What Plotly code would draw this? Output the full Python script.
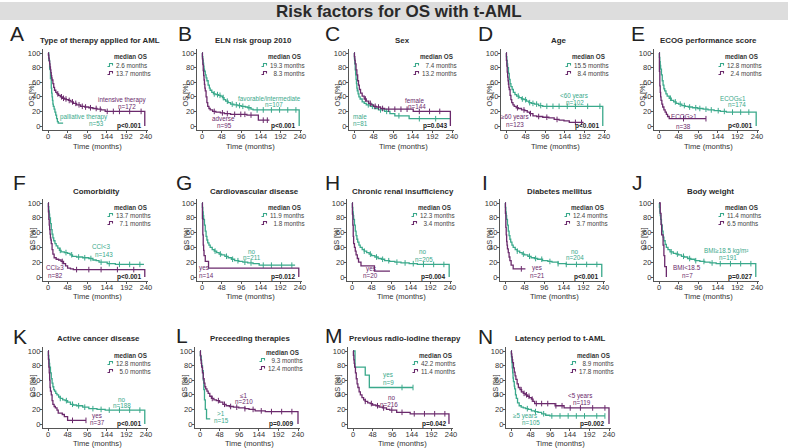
import plotly.graph_objects as go

W, H = 790, 448
TEAL = '#3aa98b'
PURPLE = '#6b2a6c'
FONT = 'Liberation Sans, Arial, sans-serif'

# ------------------------------------------------------------------ data
LETTERS = list('ABCDEFGHIJKLMN')
TITLES = ['Type of therapy applied for AML', 'ELN risk group 2010', 'Sex', 'Age',
          'ECOG performance score', 'Comorbidity', 'Cardiovascular disease',
          'Chronic renal insufficiency', 'Diabetes mellitus', 'Body weight',
          'Active cancer disease', 'Preceeding therapies',
          'Previous radio-iodine therapy', 'Latency period to t-AML']
PVALS = ['p<0.001', 'p<0.001', 'p=0.043', 'p<0.001', 'p<0.001', 'p<0.001', 'p=0.012',
         'p=0.004', 'p<0.001', 'p=0.027', 'p<0.001', 'p=0.009', 'p=0.042', 'p=0.002']
# median OS (months): [teal group, purple group]
MEDIANS = [['2.6', '13.7'], ['19.3', '\u20078.3'], ['\u20077.4', '13.2'], ['15.5', '\u20078.4'],
           ['12.8', '\u20072.4'], ['13.7', '\u20077.1'], ['11.9', '\u20071.8'], ['12.3', '\u20073.4'],
           ['12.4', '\u20073.7'], ['11.4', '6.5'], ['12.8', '\u20075.0'], ['\u20079.3', '12.4'],
           ['42.2', '11.4'], ['\u20078.9', '17.8']]
# group names and sizes: [teal, purple]
GROUPS = [['palliative therapy', 'intensive therapy'], ['favorable/intermediate', 'adverse'],
          ['male', 'female'], ['<60 years', '\u226560 years'], ['ECOG\u22641', 'ECOG>1'],
          ['CCI<3', 'CCI\u22653'], ['no', 'yes'], ['no', 'yes'], ['no', 'yes'],
          ['BMI\u226518.5 kg/m\u00b2', 'BMI<18.5'], ['no', 'yes'], ['>1', '\u22641'],
          ['yes', 'no'], ['\u22655 years', '<5 years']]
NS = [[53, 172], [107, 95], [81, 144], [102, 123], [174, 38], [143, 82], [211, 14],
      [205, 20], [204, 21], [191, 7], [188, 37], [15, 210], [9, 216], [105, 119]]

# survival curves (time in months, OS in %), 1 = teal group, 2 = purple group
A1_t = [0, 2, 4, 6, 8, 9, 10, 11, 12, 13, 15, 17, 19, 21, 23, 25, 37]
A1_s = [100, 90, 78, 65, 52, 45, 40, 35, 30, 27, 23, 19, 15, 10, 6, 4, 4]
A1_c = []
A2_t = [0, 1, 2, 3, 4, 5, 6, 7, 8, 9, 10, 12, 14, 16, 19, 22, 26, 30, 35, 40, 45, 50, 56, 62, 70, 80, 90, 100, 110, 120, 130, 140, 237]
A2_s = [100, 97, 93, 89, 85, 81, 77, 73, 69, 66, 63, 58, 53, 49, 46, 44, 42, 40, 38, 37, 36, 35, 33, 31, 29, 27, 26, 25, 24, 23, 22, 20, 0]
A2_c = [24, 33, 38, 44, 52, 60, 68, 76, 84, 92, 104, 118, 128, 145, 160, 175, 200, 228]

B1_t = [0, 1, 2, 3, 4, 5, 6, 8, 10, 12, 15, 18, 20, 24, 28, 34, 40, 46, 50, 54, 58, 64, 70, 78, 88, 96, 106, 112, 120, 125, 238]
B1_s = [100, 95, 90, 86, 82, 78, 75, 70, 66, 62, 56, 52, 49, 46, 44, 43, 42, 41, 39, 36, 34, 32, 30, 29, 28, 27, 26, 25, 23, 22, 0]
B1_c = [30, 38, 44, 52, 62, 74, 84, 92, 100, 115, 135, 150, 170, 190, 210, 230]
B2_t = [0, 1, 2, 3, 4, 5, 6, 7, 8, 10, 12, 14, 17, 20, 26, 34, 45, 55, 70, 110, 138, 165]
B2_s = [100, 92, 84, 76, 69, 63, 57, 52, 48, 40, 32, 27, 24, 22, 20, 19, 18, 17, 16, 15, 8, 8]
B2_c = [30, 50, 62, 80, 95, 105, 120, 150, 160]

C1_t = [0, 1, 2, 3, 4, 5, 6, 7, 8, 10, 12, 15, 20, 25, 30, 40, 50, 60, 75, 88, 100, 135, 235]
C1_s = [100, 92, 85, 77, 70, 64, 58, 52, 48, 44, 40, 37, 33, 31, 29, 27, 24, 22, 20, 17, 14, 10, 10]
C1_c = [35, 45, 65, 80, 110, 160, 200]
C2_t = [0, 1, 2, 3, 5, 7, 9, 11, 13, 16, 20, 25, 30, 36, 42, 48, 55, 65, 75, 145, 236]
C2_s = [100, 95, 90, 85, 77, 70, 62, 56, 50, 45, 41, 37, 34, 31, 29, 27, 26, 24, 23, 20, 0]
C2_c = [28, 40, 52, 60, 70, 85, 100, 115, 130, 160, 185, 210]

D1_t = [0, 1, 2, 3, 4, 6, 8, 10, 12, 15, 18, 22, 26, 32, 38, 44, 50, 56, 62, 70, 80, 90, 237]
D1_s = [100, 95, 90, 85, 80, 72, 64, 58, 54, 50, 46, 43, 41, 39, 37, 36, 34, 32, 31, 30, 28, 27, 0]
D1_c = [30, 40, 48, 58, 66, 75, 85, 100, 115, 130, 150, 170, 200, 230]
D2_t = [0, 1, 2, 3, 4, 5, 6, 7, 8, 10, 12, 14, 17, 20, 25, 30, 38, 46, 52, 58, 66, 75, 90, 105, 118, 130, 142, 155, 190]
D2_s = [100, 90, 82, 74, 67, 62, 57, 53, 50, 42, 36, 32, 29, 27, 25, 24, 22, 21, 19, 17, 14, 13, 12, 11, 9, 8, 7, 5, 5]
D2_c = [28, 44, 60, 80, 100, 125, 170, 185]

E1_t = [0, 1, 2, 3, 4, 6, 8, 10, 12, 14, 17, 20, 25, 30, 36, 42, 48, 56, 64, 72, 82, 95, 108, 120, 135, 150, 165, 238]
E1_s = [100, 94, 88, 83, 78, 70, 62, 56, 51, 48, 44, 41, 38, 35, 33, 31, 30, 28, 27, 26, 25, 24, 23, 22, 21, 20, 19, 0]
E1_c = [28, 40, 52, 62, 75, 90, 100, 115, 128, 145, 160, 180, 200, 220]
E2_t = [0, 1, 2, 3, 4, 5, 7, 9, 12, 15, 18, 21, 25, 115]
E2_s = [100, 75, 55, 46, 40, 35, 30, 26, 22, 19, 16, 13, 10, 10]
E2_c = [60, 115]

F1_t = [0, 1, 2, 3, 4, 6, 8, 10, 12, 14, 17, 20, 24, 28, 32, 40, 48, 54, 60, 70, 85, 100, 110, 118, 125, 145, 165, 235]
F1_s = [100, 95, 90, 85, 80, 72, 64, 58, 53, 49, 45, 42, 39, 36, 34, 33, 32, 30, 28, 27, 26, 25, 23, 22, 20, 18, 17, 17]
F1_c = [30, 44, 58, 75, 90, 105, 130, 150, 175, 200, 225]
F2_t = [0, 1, 2, 3, 4, 5, 6, 7, 8, 10, 12, 15, 20, 26, 32, 38, 43, 48, 55, 62, 237]
F2_s = [100, 88, 78, 70, 64, 58, 53, 50, 45, 37, 31, 26, 24, 23, 21, 18, 15, 12, 11, 10, 0]
F2_c = [35, 70, 100, 130, 170, 210]

G1_t = [0, 1, 2, 3, 4, 6, 8, 10, 12, 14, 17, 20, 25, 30, 36, 42, 48, 56, 64, 72, 80, 90, 100, 112, 125, 140, 228]
G1_s = [100, 94, 88, 83, 78, 70, 62, 55, 50, 46, 43, 40, 37, 35, 33, 31, 30, 28, 26, 24, 22, 21, 20, 19, 18, 16, 16]
G1_c = [32, 45, 60, 75, 88, 105, 120, 150, 170, 195, 220]
G2_t = [0, 1, 2, 3, 4, 5, 8, 16, 237]
G2_s = [100, 79, 57, 43, 36, 29, 21, 12, 0]
G2_c = []

H1_t = [0, 1, 2, 3, 4, 6, 8, 10, 12, 14, 17, 20, 25, 30, 36, 42, 48, 56, 64, 72, 80, 92, 105, 120, 140, 160, 238]
H1_s = [100, 94, 88, 83, 78, 70, 62, 56, 51, 47, 43, 40, 37, 35, 33, 31, 29, 27, 25, 24, 22, 21, 20, 19, 18, 17, 0]
H1_c = [30, 45, 60, 75, 90, 110, 130, 150, 175, 200, 225]
H2_t = [0, 1, 2, 3, 4, 6, 8, 10, 13, 16, 22, 55, 93]
H2_s = [100, 85, 70, 55, 45, 40, 35, 30, 25, 20, 15, 8, 8]
H2_c = []

I1_t = [0, 1, 2, 3, 4, 6, 8, 10, 12, 14, 17, 20, 25, 30, 36, 42, 48, 56, 64, 72, 80, 92, 105, 115, 130, 150, 237]
I1_s = [100, 94, 88, 83, 78, 70, 62, 56, 51, 47, 43, 40, 37, 35, 33, 31, 30, 28, 26, 25, 24, 22, 21, 20, 18, 17, 0]
I1_c = [30, 45, 60, 75, 90, 110, 130, 150, 175, 200, 225]
I2_t = [0, 1, 2, 3, 4, 5, 6, 8, 10, 12, 15, 20, 50]
I2_s = [100, 86, 67, 57, 48, 43, 38, 33, 27, 22, 16, 11, 11]
I2_c = [40]

J1_t = [0, 1, 2, 3, 4, 6, 8, 10, 12, 15, 18, 22, 27, 35, 42, 48, 55, 62, 70, 78, 88, 100, 112, 125, 140, 237]
J1_s = [100, 94, 88, 83, 78, 70, 62, 54, 49, 44, 40, 37, 34, 32, 31, 30, 28, 27, 25, 24, 22, 21, 20, 19, 18, 0]
J1_c = [30, 45, 60, 75, 90, 110, 130, 150, 175, 200, 225]
J2_t = [0, 3, 5, 6.5, 10, 12, 14, 18]
J2_s = [100, 86, 71, 57, 43, 29, 14, 0]
J2_c = []

K1_t = [0, 1, 2, 3, 4, 6, 8, 10, 12, 14, 16, 19, 22, 26, 30, 36, 42, 48, 55, 62, 70, 85, 100, 120, 140, 237]
K1_s = [100, 94, 88, 83, 78, 70, 62, 56, 51, 47, 45, 42, 40, 37, 35, 33, 32, 30, 27, 26, 25, 23, 21, 20, 19, 0]
K1_c = [30, 45, 60, 75, 90, 110, 130, 150, 175, 200, 225]
K2_t = [0, 1, 2, 3, 4, 5, 6, 8, 10, 12, 15, 18, 22, 25, 35, 40, 48, 93]
K2_s = [100, 89, 78, 70, 60, 50, 45, 40, 32, 27, 24, 22, 19, 15, 13, 10, 5, 5]
K2_c = [60, 93]

L1_t = [0, 1, 3, 4, 6, 8, 9.3, 11, 13, 16, 25]
L1_s = [100, 93, 87, 80, 73, 60, 47, 33, 20, 7, 7]
L1_c = []
L2_t = [0, 1, 2, 3, 4, 6, 8, 10, 12, 14, 17, 20, 24, 28, 34, 40, 48, 56, 64, 72, 82, 95, 110, 120, 135, 160, 240]
L2_s = [100, 94, 88, 83, 78, 70, 62, 56, 51, 48, 45, 42, 38, 35, 33, 32, 30, 27, 25, 24, 23, 22, 21, 20, 18, 17, 0]
L2_c = [30, 45, 60, 75, 90, 110, 130, 150, 175, 200, 225]

M1_t = [0, 5, 30, 40, 147]
M1_s = [100, 78, 67, 50, 50]
M1_c = [120, 147]
M2_t = [0, 1, 2, 3, 4, 6, 8, 10, 12, 15, 18, 22, 26, 30, 36, 42, 48, 56, 64, 72, 82, 90, 107, 140, 235]
M2_s = [100, 94, 88, 83, 78, 70, 62, 55, 50, 44, 40, 36, 33, 31, 29, 28, 26, 25, 23, 22, 20, 19, 16, 14, 0]
M2_c = [30, 45, 60, 75, 95, 120, 150, 175, 200, 225]

N1_t = [0, 1, 2, 3, 4, 5, 6, 8, 9, 11, 13, 16, 20, 25, 30, 36, 42, 50, 58, 66, 75, 85, 95, 230]
N1_s = [100, 92, 84, 77, 70, 63, 58, 52, 48, 40, 35, 29, 25, 23, 22, 21, 20, 18, 17, 16, 14, 12, 11, 11]
N1_c = [40, 60, 80, 100, 120, 140, 160, 180, 210, 230]
N2_t = [0, 1, 2, 3, 4, 6, 8, 10, 12, 15, 18, 22, 26, 30, 35, 40, 45, 50, 54, 58, 108, 130, 240]
N2_s = [100, 96, 92, 88, 84, 77, 71, 66, 61, 55, 50, 47, 44, 42, 40, 38, 36, 34, 31, 28, 25, 22, 0]
N2_c = [25, 32, 38, 44, 52, 62, 75, 90, 110, 125, 145, 170, 200, 230]

CURVES = [
    [(A1_t, A1_s, A1_c), (A2_t, A2_s, A2_c)], [(B1_t, B1_s, B1_c), (B2_t, B2_s, B2_c)],
    [(C1_t, C1_s, C1_c), (C2_t, C2_s, C2_c)], [(D1_t, D1_s, D1_c), (D2_t, D2_s, D2_c)],
    [(E1_t, E1_s, E1_c), (E2_t, E2_s, E2_c)], [(F1_t, F1_s, F1_c), (F2_t, F2_s, F2_c)],
    [(G1_t, G1_s, G1_c), (G2_t, G2_s, G2_c)], [(H1_t, H1_s, H1_c), (H2_t, H2_s, H2_c)],
    [(I1_t, I1_s, I1_c), (I2_t, I2_s, I2_c)], [(J1_t, J1_s, J1_c), (J2_t, J2_s, J2_c)],
    [(K1_t, K1_s, K1_c), (K2_t, K2_s, K2_c)], [(L1_t, L1_s, L1_c), (L2_t, L2_s, L2_c)],
    [(M1_t, M1_s, M1_c), (M2_t, M2_s, M2_c)], [(N1_t, N1_s, N1_c), (N2_t, N2_s, N2_c)],
]

XTICKS = [0, 48, 96, 144, 192, 240]
YTICKS = [0, 20, 40, 60, 80, 100]

# ------------------------------------------------------------------ layout geometry (pixels)
PX0 = [48, 202, 354, 506, 659, 48, 202, 352, 505, 659, 48, 200, 353, 511]   # x pixel of t=0
ROW = [0, 0, 0, 0, 0, 1, 1, 1, 1, 1, 2, 2, 2, 2]
ROW_Y100 = [53, 203, 351]
ROW_Y0 = [126, 277, 424]
PXM = 98 / 240.0          # pixels per month
LETTER_POS = [(17, 34), (185, 34), (332, 34), (485, 34), (638, 34),
              (19, 182), (184, 182), (332, 182), (485, 182), (637, 182),
              (20, 336), (182, 335.5), (334, 335.5), (486, 336)]
TITLE_POS = [(100, 41), (253, 41), (402, 41), (559, 41), (708, 41),
             (96, 191), (254, 191), (403, 191), (560, 191), (710, 191),
             (98, 338), (250, 338), (405, 338), (560, 338)]
OS_Y = [95, 239, 386]
TIME_Y = [146, 296, 443]
LEG_DY = [0, 0, 0, 0, 0, 0, 0, 0, 0, 0, 0, -3, 0, 0]
# label positions in data units: [(teal name),(teal n),(purple name),(purple n)]
LABEL_POS = [
    [(87, 12), (119, 3.6), (180, 35.6), (194, 26.4)],
    [(165, 38), (177, 29), (52, 10.5), (55, 0.5)],
    [(15, 12.8), (15, 3.7), (147, 35.6), (155, 26.4)],
    [(167, 41), (168, 32), (22, 12), (23, 1.4)],
    [(182, 38), (190, 29), (61, 12.8), (61, 0)],
    [(131, 41), (137, 30.6), (18, 12.6), (19, 2.7)],
    [(122, 35), (122, 26.6), (4, 11.7), (11, 2.7)],
    [(175, 34), (177, 24), (46, 10.4), (45, 1.8)],
    [(172, 35), (172, 26), (78, 11.7), (79, 2.7)],
    [(164, 35), (169, 26), (69, 12.6), (69, 2.7)],
    [(180, 33.8), (180, 24.7), (119, 11), (120, 2.3)],
    [(51, 14.5), (53, 5.3), (106, 39.5), (108, 30.3)],
    [(86, 66.5), (86, 57.5), (95, 36), (89, 27)],
    [(35, 10.5), (49, 1.5), (170, 38), (175, 29)],
]


def fx(X):
    return X / W


def fy(Y):
    return 1 - Y / H


def step_value(t, s, c):
    v = s[0]
    for ti, si in zip(t, s):
        if ti <= c:
            v = si
    return v


fig = go.Figure()
annotations = []
shapes = []

# title band
shapes.append(dict(type='rect', xref='paper', yref='paper', x0=fx(0), x1=fx(788),
                   y0=fy(20), y1=fy(2), fillcolor='#dddddd', line=dict(width=0), layer='below'))
annotations.append(dict(xref='paper', yref='paper', x=fx(399), y=fy(11.5), text='<b>Risk factors for OS with t-AML</b>',
                        showarrow=False, font=dict(size=17, color='#2a2a2a', family=FONT),
                        xanchor='center', yanchor='middle'))

for i in range(14):
    k = '' if i == 0 else str(i + 1)
    xa, ya = 'xaxis' + k, 'yaxis' + k
    xr, yr = 'x' + k, 'y' + k
    r = ROW[i]
    x0 = PX0[i]
    y100, y0 = ROW_Y100[r], ROW_Y0[r]
    pys = (y0 - y100) / 100.0
    # axes
    fig.layout[xa] = dict(domain=[fx(x0 - 5), fx(x0 + 100)], range=[-5 / PXM, 100 / PXM], anchor=yr,
                          showline=True, linecolor='#555555', linewidth=1.3, ticks='outside', ticklen=2,
                          tickcolor='#555555', tickvals=XTICKS, showgrid=False, zeroline=False,
                          ticklabelstandoff=-3,
                          tickfont=dict(size=7.5, color='#333333', family=FONT), automargin=False,
                          fixedrange=True)
    fig.layout[ya] = dict(domain=[fy(y0 + 4), fy(y100 - 4)], range=[-4 / pys, 100 + 4 / pys], anchor=xr,
                          showline=True, linecolor='#555555', linewidth=1.3, ticks='outside', ticklen=2,
                          tickcolor='#555555', tickvals=YTICKS, showgrid=False, zeroline=False,
                          ticklabelstandoff=-2,
                          tickfont=dict(size=7.5, color='#333333', family=FONT), automargin=False,
                          fixedrange=True)
    # curves
    for g, col in enumerate([TEAL, PURPLE]):
        t, s, c = CURVES[i][g]
        fig.add_trace(go.Scatter(x=t, y=s, mode='lines', line=dict(color=col, width=1.3, shape='hv'),
                                 xaxis=xr, yaxis=yr, showlegend=False, hoverinfo='skip'))
        if c:
            fig.add_trace(go.Scatter(x=c, y=[step_value(t, s, cc) for cc in c], mode='markers',
                                     marker=dict(symbol='line-ns', size=4, line=dict(color=col, width=1)),
                                     xaxis=xr, yaxis=yr, showlegend=False, hoverinfo='skip'))
        # group labels
        lp = LABEL_POS[i]
        annotations.append(dict(xref=xr, yref=yr, x=lp[2 * g][0], y=lp[2 * g][1], text=GROUPS[i][g],
                                showarrow=False, font=dict(size=6.3, color=col, family=FONT),
                                xanchor='center', yanchor='middle'))
        annotations.append(dict(xref=xr, yref=yr, x=lp[2 * g + 1][0], y=lp[2 * g + 1][1], text='n=%d' % NS[i][g],
                                showarrow=False, font=dict(size=6.3, color=col, family=FONT),
                                xanchor='center', yanchor='middle'))
        # median legend rows
        ly = y100 + LEG_DY[i] + 12 + 8 * g
        shapes.append(dict(type='path', xref='paper', yref='paper',
                           path='M %f,%f L %f,%f L %f,%f L %f,%f L %f,%f' % (
                               fx(x0 + 59.5), fy(ly + 1.5), fx(x0 + 61.5), fy(ly + 1.5), fx(x0 + 61.5), fy(ly - 1.5),
                               fx(x0 + 64.5), fy(ly - 1.5), fx(x0 + 64.5), fy(ly + 0.5)),
                           line=dict(color=col, width=1.1)))
        annotations.append(dict(xref='paper', yref='paper', x=fx(x0 + 65.5), y=fy(ly), text=MEDIANS[i][g] + ' months',
                                showarrow=False, font=dict(size=6.3, color='#444444', family=FONT),
                                xanchor='left', yanchor='middle'))
    annotations.append(dict(xref='paper', yref='paper', x=fx(x0 + 82), y=fy(y100 + LEG_DY[i] + 4),
                            text='<b>median OS</b>', showarrow=False,
                            font=dict(size=6.3, color='#333333', family=FONT), xanchor='center', yanchor='middle'))
    # p value
    annotations.append(dict(xref='paper', yref='paper', x=fx(x0 + 95), y=fy(y0), text='<b>%s</b>' % PVALS[i],
                            showarrow=False, font=dict(size=6.5, color='#222222', family=FONT),
                            xanchor='right', yanchor='middle'))
    # letter and title
    lx, lyy = LETTER_POS[i]
    annotations.append(dict(xref='paper', yref='paper', x=fx(lx), y=fy(lyy), text=LETTERS[i], showarrow=False,
                            font=dict(size=21, color='#222222', family=FONT), xanchor='center', yanchor='middle'))
    tx, ty = TITLE_POS[i]
    annotations.append(dict(xref='paper', yref='paper', x=fx(tx), y=fy(ty), text='<b>%s</b>' % TITLES[i],
                            showarrow=False, font=dict(size=7.9, color='#2a2a2a', family=FONT),
                            xanchor='center', yanchor='middle'))
    # axis titles
    annotations.append(dict(xref='paper', yref='paper', x=fx(x0 + 49), y=fy(TIME_Y[r]), text='Time (months)',
                            showarrow=False, font=dict(size=7.6, color='#333333', family=FONT),
                            xanchor='center', yanchor='middle'))
    annotations.append(dict(xref='paper', yref='paper', x=fx(x0 - 16.5), y=fy(OS_Y[r]), text='OS [%]',
                            showarrow=False, textangle=-90, font=dict(size=7.3, color='#333333', family=FONT),
                            xanchor='center', yanchor='middle'))

fig.update_layout(width=W, height=H, margin=dict(l=0, r=0, t=0, b=0), plot_bgcolor='white',
                  paper_bgcolor='white', showlegend=False, annotations=annotations, shapes=shapes,
                  font=dict(family=FONT))
fig.write_html('out.html', config={'displayModeBar': False},
               post_script="document.body.style.margin='0px';")
